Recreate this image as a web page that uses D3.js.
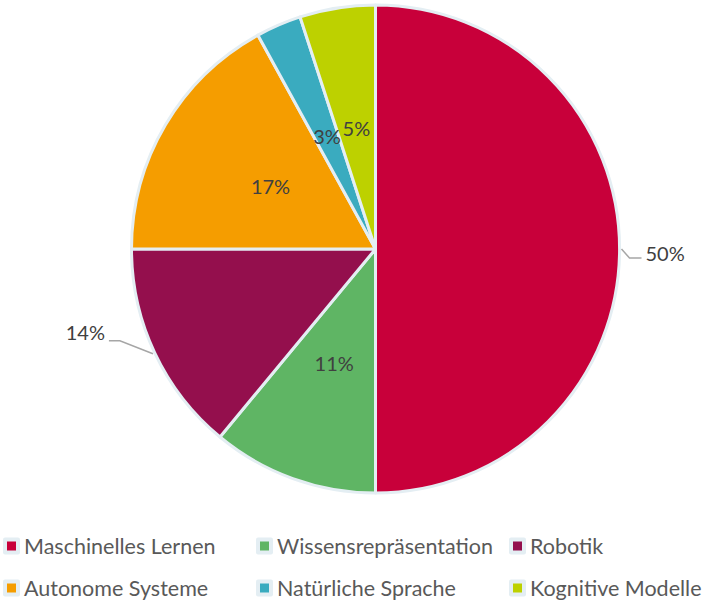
<!DOCTYPE html>
<html>
<head>
<meta charset="utf-8">
<script src="https://cdn.jsdelivr.net/npm/d3@7"></script>
<style>
  body { margin: 0; background: #fff; }
  text { font-family: Lato, "Open Sans", sans-serif; }
</style>
</head>
<body>
<div id="main_svg"></div>
<script>
// data
var categories = ["Maschinelles Lernen", "Wissensrepräsentation", "Robotik",
                  "Autonome Systeme", "Natürliche Sprache", "Kognitive Modelle"];
var values = [50, 11, 14, 17, 3, 5];
var colors = ["#C8003A", "#5FB564", "#940F4D", "#F59D00", "#3AABBF", "#BDD100"];
// which labels sit outside with a leader line
var outside = ["Maschinelles Lernen", "Robotik"];

var width = 711, height = 602;
var cx = 375.5, cy = 249, radius = 244;

var svg = d3.select("#main_svg").append("svg")
    .attr("width", width)
    .attr("height", height);

var data = categories.map(function (c, i) {
    return {name: c, value: values[i], color: colors[i]};
});
var total = d3.sum(values);

var pie = d3.pie()
    .sort(null)
    .value(function (d) { return d.value; });

var arc = d3.arc().innerRadius(0).outerRadius(radius);
var labelArc = d3.arc().innerRadius(radius * 0.5).outerRadius(radius * 0.5);

var g = svg.append("g")
    .attr("transform", "translate(" + cx + "," + cy + ")");

var arcs = pie(data);

g.selectAll(".slice")
    .data(arcs)
    .enter().append("path")
    .attr("class", "slice")
    .attr("d", arc)
    .attr("fill", function (d) { return d.data.color; })
    .attr("stroke", "#E4EEF3")
    .attr("stroke-width", 3)
    .attr("stroke-linejoin", "round");

var pct = function (d) { return Math.round(d.data.value / total * 100) + "%"; };

// inside labels
g.selectAll(".lbl")
    .data(arcs.filter(function (d) { return outside.indexOf(d.data.name) < 0; }))
    .enter().append("text")
    .attr("class", "lbl")
    .attr("transform", function (d) { return "translate(" + labelArc.centroid(d) + ")"; })
    .attr("text-anchor", "middle")
    .attr("dy", "0.35em")
    .attr("font-size", 20)
    .attr("fill", "#404040")
    .text(pct);

// outside labels with leader lines
arcs.filter(function (d) { return outside.indexOf(d.data.name) >= 0; }).forEach(function (d) {
    var mid = (d.startAngle + d.endAngle) / 2;
    var sx = Math.sin(mid), sy = -Math.cos(mid);
    var right = sx > 0;
    var p0 = [sx * (radius + 2), sy * (radius + 2)];
    var p1, p2, tx, ty;
    if (right) {
        p1 = [p0[0] + 8, p0[1] + 9];
        p2 = [p1[0] + 12, p1[1]];
        tx = p2[0] + 4; ty = p2[1] - 4;
    } else {
        p1 = [p0[0] - 33, p0[1] - 13];
        p2 = [p1[0] - 11, p1[1]];
        tx = p2[0] - 4; ty = p2[1] - 8;
    }
    g.append("polyline")
        .attr("points", [p0, p1, p2].map(function (p) { return p.join(","); }).join(" "))
        .attr("fill", "none")
        .attr("stroke", "#A6A6A6")
        .attr("stroke-width", 1.5);
    g.append("text")
        .attr("x", tx)
        .attr("y", ty)
        .attr("text-anchor", right ? "start" : "end")
        .attr("dy", "0.35em")
        .attr("font-size", 20)
        .attr("fill", "#404040")
        .text(pct(d));
});

// legend
var legendPos = [[3, 546], [256, 546], [509, 546], [3, 588], [256, 588], [509, 588]];

var legend = svg.selectAll(".legend")
    .data(data)
    .enter().append("g")
    .attr("class", "legend")
    .attr("transform", function (d, i) {
        return "translate(" + legendPos[i][0] + "," + legendPos[i][1] + ")";
    });

legend.append("rect")
    .attr("x", 0)
    .attr("y", -8.5)
    .attr("width", 17)
    .attr("height", 17)
    .attr("rx", 2)
    .attr("fill", "#E4EEF3");

legend.append("rect")
    .attr("x", 4)
    .attr("y", -4.5)
    .attr("width", 9)
    .attr("height", 9)
    .attr("fill", function (d) { return d.color; });

legend.append("text")
    .attr("x", 21)
    .attr("y", 0)
    .attr("dy", "0.36em")
    .attr("font-size", 21.5)
    .attr("fill", "#595959")
    .text(function (d) { return d.name; });
</script>
</body>
</html>
